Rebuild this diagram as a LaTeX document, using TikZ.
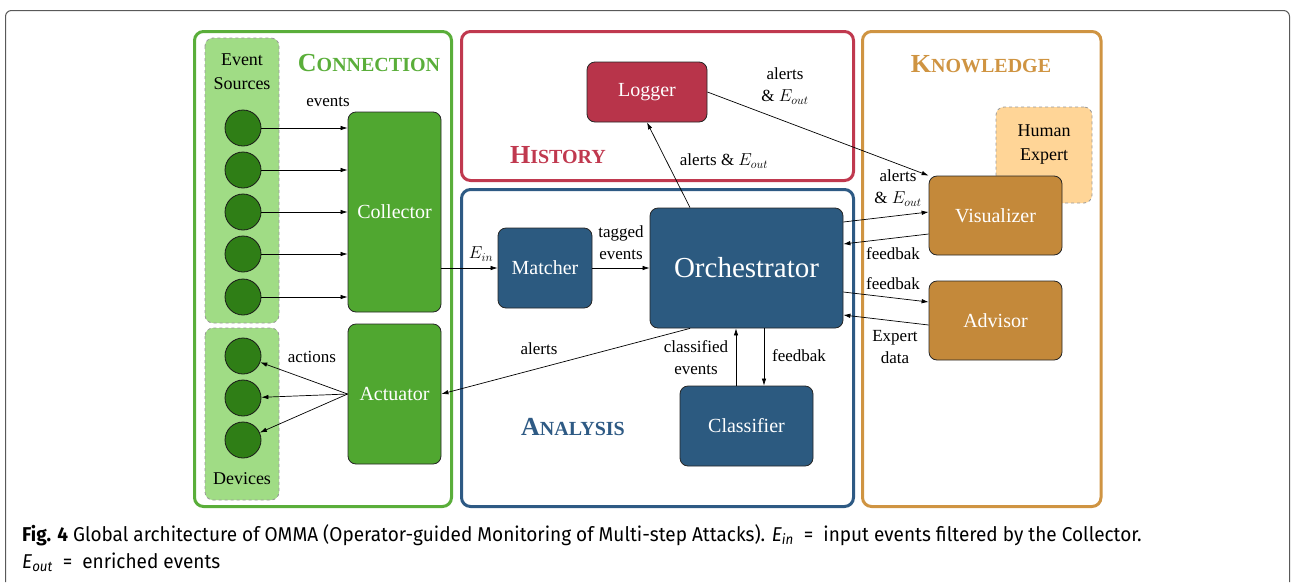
\documentclass[tikz,border=0pt]{standalone}
\usepackage{fontspec}
\setmainfont{Liberation Serif}
\newfontfamily\capfont[FakeStretch=0.95]{Fira Sans}
\usetikzlibrary{arrows.meta}
\definecolor{cgreen}{HTML}{5AAE3A}
\definecolor{fgreen}{HTML}{50A730}
\definecolor{dgreen}{HTML}{2F7E16}
\definecolor{lgreen}{HTML}{A0DC85}
\definecolor{cred}{HTML}{C0394F}
\definecolor{fred}{HTML}{B8344A}
\definecolor{cblue}{HTML}{2E5A84}
\definecolor{fblue}{HTML}{2C5A80}
\definecolor{corange}{HTML}{CF9442}
\definecolor{forange}{HTML}{C4893A}
\definecolor{lorange}{HTML}{FFD597}
\newcommand\hd[2]{{\bfseries\fontsize{26}{30}\selectfont #1\fontsize{20}{30}\selectfont #2}}
\tikzset{
  panel/.style={line width=3pt, rounded corners=9pt},
  blk/.style={draw=black!85, line width=0.8pt, rounded corners=8pt, text=white, inner sep=0pt, font=\fontsize{20}{24}\selectfont},
  src/.style={circle, draw=black!90, line width=0.8pt, fill=dgreen, minimum size=36pt, inner sep=0pt},
  bgbox/.style={draw=black!40, dashed, line width=0.8pt, rounded corners=8pt},
  lbl/.style={font=\fontsize{17}{22}\selectfont, align=center, inner sep=0pt},
  arr/.style={-{Latex[length=7pt,width=4.5pt]}, line width=0.7pt},
  captxt/.style={anchor=base west, inner sep=0pt, font=\capfont\fontsize{20}{24}\selectfont},
}
\begin{document}
\begin{tikzpicture}[x=1pt,y=-1pt]
\useasboundingbox (0,0) rectangle (1291,582);
% outer frame
\draw[black!65, line width=1pt, rounded corners=6pt] (5.5,582) |- (1289.5,10.5) -- (1289.5,582);
% panels
\draw[panel, cgreen] (194.5,31.5) rectangle (451.5,506.5);
\draw[panel, cred] (461.5,31.5) rectangle (853.5,180.5);
\draw[panel, cblue] (461.5,189.5) rectangle (853.5,506.5);
\draw[panel, corange] (862.5,31.5) rectangle (1101,506.5);
% headings
\node[text=cgreen] (hcon) at (369,63) {\hd{C}{ONNECTION}};
\node[text=cred] (hhis) at (558,155) {\hd{H}{ISTORY}};
\node[text=cblue] (hana) at (573,427) {\hd{A}{NALYSIS}};
\node[text=corange] (hkno) at (981,64) {\hd{K}{NOWLEDGE}};
% source / device backgrounds
\draw[bgbox, fill=lgreen] (205,38) rectangle (279,323);
\draw[bgbox, fill=lgreen] (205,328) rectangle (279,500);
\node[lbl, font=\fontsize{18}{24}\selectfont] (tsrc) at (242,72) {Event\\Sources};
\node[lbl, font=\fontsize{18}{24}\selectfont] (tdev) at (242,479) {Devices};
% circles
\node[src] (s1) at (243,128) {};
\node[src] (s2) at (243,170) {};
\node[src] (s3) at (243,212) {};
\node[src] (s4) at (243,254) {};
\node[src] (s5) at (243,297) {};
\node[src] (d1) at (243,356) {};
\node[src] (d2) at (243,398) {};
\node[src] (d3) at (243,440) {};
% blocks
\node[blk, fill=fgreen, minimum width=93pt, minimum height=200pt] (col) at (394.5,212) {Collector};
\node[blk, fill=fgreen, minimum width=93pt, minimum height=140pt] (act) at (394.5,394) {Actuator};
\node[blk, fill=fred, minimum width=120pt, minimum height=60pt] (log) at (647,92) {Logger};
\node[blk, fill=fblue, minimum width=94pt, minimum height=80pt] (mat) at (545,268) {Matcher};
\node[blk, fill=fblue, minimum width=193pt, minimum height=120pt, font=\fontsize{29}{34}\selectfont] (orc) at (746.5,268) {Orchestrator};
\node[blk, fill=fblue, minimum width=133pt, minimum height=80pt] (cls) at (746.5,426) {Classifier};
\node[bgbox, fill=lorange, minimum width=96pt, minimum height=96pt, inner sep=0pt] (hum) at (1044,155) {};
\node[lbl, font=\fontsize{18}{24}\selectfont] (thum) at (1044,145) {Human\\Expert};
\node[blk, fill=forange, minimum width=133pt, minimum height=79pt] (vis) at (995.5,215.5) {Visualizer};
\node[blk, fill=forange, minimum width=133pt, minimum height=79pt] (adv) at (995.5,320.5) {Advisor};
% connection arrows
\foreach \s in {s1,s2,s3,s4,s5} \draw[arr] (\s) -- (col.west |- \s);
\foreach \d in {d1,d2,d3} \draw[arr] (act.west) -- (\d);
\draw[arr] (col.east |- mat) -- (mat.west);
\draw[arr] (mat.east) -- (orc.west |- mat);
\draw[arr] ([xshift=-56.5pt]orc.north) -- (log.south);
\draw[arr] ([xshift=-56.5pt]orc.south) -- (act.east);
\draw[arr] ([xshift=-10.5pt]cls.north) -- ([xshift=-10.5pt]orc.south);
\draw[arr] ([xshift=17.5pt]orc.south) -- ([xshift=17.5pt]cls.north);
\draw[arr] (log.east) -- (vis.north west);
\draw[arr] ([yshift=46pt]orc.east) -- ([yshift=3.5pt]vis.west);
\draw[arr] ([yshift=-18.5pt]vis.west) -- ([yshift=24pt]orc.east);
\draw[arr] ([yshift=-24pt]orc.east) -- ([yshift=18.5pt]adv.west);
\draw[arr] ([yshift=-4.5pt]adv.west) -- ([yshift=-47pt]orc.east);
% labels
\node[lbl] (l1) at (328,102) {events};
\node[lbl] (l2) at (312,357) {actions};
\node[lbl] (l3) at (481,254) {$E_{in}$};
\node[lbl] (l4) at (621,243) {tagged\\events};
\node[lbl] (l5) at (539,349) {alerts};
\node[lbl] (l6) at (696,358) {classified\\events};
\node[lbl] (l7) at (799,356) {feedbak};
\node[lbl] (l8) at (724,161) {alerts \& $E_{out}$};
\node[lbl] (l9) at (785,86) {alerts\\\& $E_{out}$};
\node[lbl] (l10) at (898,188) {alerts\\\& $E_{out}$};
\node[lbl] (l11) at (893,254) {feedbak};
\node[lbl] (l12) at (893,284) {feedbak};
\node[lbl] (l13) at (895,347) {Expert\\data};
% caption
\node[captxt] (cap1) at (22,541) {\textbf{Fig. 4} Global architecture of OMMA (Operator-guided Monitoring of Multi-step Attacks). \textit{E}\textsubscript{\itshape in}\enspace=\enspace input events filtered by the Collector.};
\node[captxt] (cap2) at (22,568) {\textit{E}\textsubscript{\itshape out}\enspace=\enspace enriched events};
\end{tikzpicture}
\end{document}
